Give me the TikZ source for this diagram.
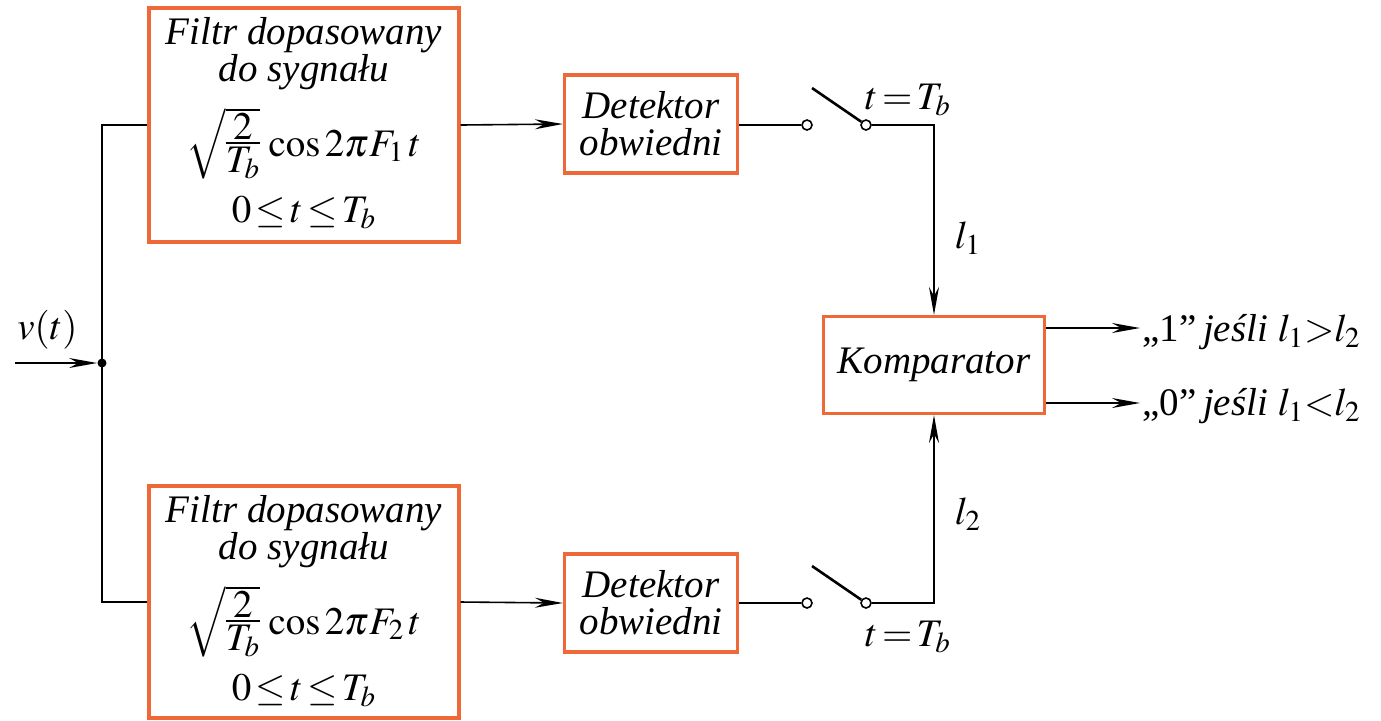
\documentclass[tikz,border=0pt]{standalone}
\usepackage{amsmath}
\usepackage{mathptmx}
\usepackage{fontspec}
\setmainfont{Liberation Serif}
\usetikzlibrary{arrows.meta}
\definecolor{boxorange}{RGB}{238,104,56}
\newcommand{\tightfrac}[2]{\vcenter{\offinterlineskip\halign{\hfil$##$\hfil\cr #1\cr\noalign{\kern1.2pt\hrule height 0.8pt\kern1.5pt}#2\cr}}}
\begin{document}
\thickmuskip=2mu plus 1mu\medmuskip=2mu
\begin{tikzpicture}[x=0.5pt,y=-0.5pt,
  blk/.style={draw=boxorange,line width=1.6pt,fill=white,inner sep=0pt,align=center,
    font=\fontsize{19.5}{18.5}\selectfont\itshape},
  txt/.style={inner sep=0pt,align=center,font=\fontsize{19.5}{18.5}\selectfont\itshape},
  wire/.style={line width=0.8pt,black},
  arr/.style={wire,-{Stealth[length=14pt,width=5pt]}},
  contact/.style={circle,draw,line width=0.8pt,fill=white,inner sep=0pt,minimum size=5pt},
  lbl/.style={font=\fontsize{19.5}{19}\selectfont,inner sep=0pt}]
\useasboundingbox (0,0) rectangle (1381,720);
% blocks
\node[blk,minimum width=155pt,minimum height=117pt] (f1) at (304,125) {};
\node[blk,minimum width=155pt,minimum height=116pt] (f2) at (304,602) {};
\node[txt,anchor=north] (f1t) at (304,17) {Filtr dopasowany\\do sygnału};
\node[txt,anchor=base] (f1m) at (304,156) {\upshape$\sqrt{\tightfrac{2}{T_b}}\,\cos 2\pi F_1\,t$};
\node[txt,anchor=base] (f1i) at (304,222) {\upshape$0\le t\le T_b$};
\node[txt,anchor=north] (f2t) at (304,495) {Filtr dopasowany\\do sygnału};
\node[txt,anchor=base] (f2m) at (304,634) {\upshape$\sqrt{\tightfrac{2}{T_b}}\,\cos 2\pi F_2\,t$};
\node[txt,anchor=base] (f2i) at (304,700) {\upshape$0\le t\le T_b$};
\node[blk,minimum width=86.5pt,minimum height=49pt] (d1) at (651,124) {Detektor\\obwiedni};
\node[blk,minimum width=86.5pt,minimum height=49pt] (d2) at (651,603) {Detektor\\obwiedni};
\node[blk,minimum width=110.5pt,minimum height=48.5pt] (k) at (934,365) {Komparator};
% input
\coordinate (in) at (15,363);
\node[circle,fill=black,inner sep=0pt,minimum size=4.5pt] (dot) at (102,363) {};
\draw[arr] (in) -- (dot);
\node[lbl,anchor=south west] (vt) at (17,350) {$v(t)$};
\draw[wire] (f1.west) -| (dot.center) |- (f2.west);
% filters to detectors
\draw[arr] (f1.east) -- (d1.west);
\draw[arr] (f2.east) -- (d2.west);
% switches
\node[contact] (s1a) at (807,125) {};
\node[contact] (s1b) at (866,125) {};
\coordinate (b1) at (812,88);
\draw[wire,line width=1.3pt] (b1) -- (s1b);
\draw[wire] (d1.east |- s1a) -- (s1a);
\node[contact] (s2a) at (807,603) {};
\node[contact] (s2b) at (866,603) {};
\coordinate (b2) at (812,566);
\draw[wire,line width=1.3pt] (b2) -- (s2b);
\draw[wire] (d2.east |- s2a) -- (s2a);
% to comparator
\draw[arr] (s1b) -| (k.north);
\draw[arr] (s2b) -| (k.south);
\node[lbl] (t1) at (908,100) {$t=T_b$};
\node[lbl] (t2) at (908,637) {$t=T_b$};
\node[lbl] (l1) at (968,238) {$l_1$};
\node[lbl] (l2) at (968,514) {$l_2$};
% outputs
\coordinate (o1) at (1140,328);
\coordinate (o2) at (1140,403);
\draw[arr] (k.east |- o1) -- (o1);
\draw[arr] (k.east |- o2) -- (o2);
\node[lbl,anchor=west] (r1) at (1142,332) {„1”\,\textit{jeśli} $l_1\!>\!l_2$};
\node[lbl,anchor=west] (r2) at (1142,406) {„0”\,\textit{jeśli} $l_1\!<\!l_2$};
\end{tikzpicture}
\end{document}
